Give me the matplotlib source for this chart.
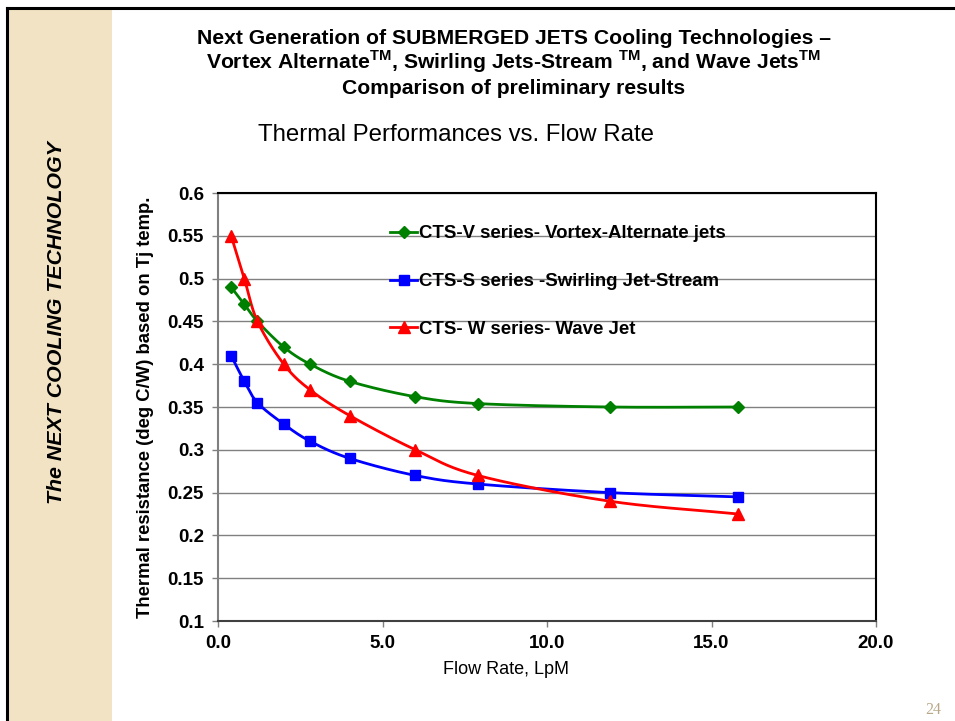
import numpy as np
import matplotlib
matplotlib.use("Agg")
import matplotlib.pyplot as plt
from matplotlib.patches import Rectangle
from matplotlib.lines import Line2D

plt.rcParams['font.family'] = ['Liberation Sans', 'DejaVu Sans']
plt.rcParams['mathtext.fontset'] = 'custom'
plt.rcParams['mathtext.rm'] = 'Liberation Sans'
plt.rcParams['mathtext.bf'] = 'Liberation Sans:bold'

# data
flow = [0.4, 0.8, 1.2, 2.0, 2.8, 4.0, 6.0, 7.9, 11.9, 15.8]
vortex = [0.49, 0.47, 0.45, 0.42, 0.40, 0.38, 0.362, 0.354, 0.35, 0.35]
swirl = [0.41, 0.38, 0.355, 0.33, 0.31, 0.29, 0.27, 0.26, 0.25, 0.245]
wave = [0.55, 0.50, 0.45, 0.40, 0.37, 0.34, 0.30, 0.27, 0.24, 0.225]

labels = ['CTS-V series- Vortex-Alternate jets',
          'CTS-S series -Swirling Jet-Stream',
          'CTS- W series- Wave Jet']
colors = ['#008000', '#0000ff', '#ff0000']
markers = ['D', 's', '^']
msizes = [6, 7.5, 8]

x_ticks = [0, 5, 10, 15, 20]
y_ticks = [0.1, 0.15, 0.2, 0.25, 0.3, 0.35, 0.4, 0.45, 0.5, 0.55, 0.6]

W, H = 955, 721


def smooth(xs, ys, n=30):
    # Excel style smoothed line (uniform Catmull-Rom through the points)
    p = np.column_stack([xs, ys]).astype(float)
    p = np.vstack([2 * p[0] - p[1], p, 2 * p[-1] - p[-2]])
    out = []
    t = np.linspace(0, 1, n)[:, None]
    for i in range(1, len(p) - 2):
        p0, p1, p2, p3 = p[i - 1], p[i], p[i + 1], p[i + 2]
        c = 0.5 * ((2 * p1) + (-p0 + p2) * t + (2 * p0 - 5 * p1 + 4 * p2 - p3) * t ** 2
                   + (-p0 + 3 * p1 - 3 * p2 + p3) * t ** 3)
        out.append(c)
    c = np.vstack(out)
    return c[:, 0], c[:, 1]


def fx(x):
    return x / W


def fy(y):
    return 1 - y / H


fig = plt.figure(figsize=(W / 100, H / 100), dpi=100)

# slide decoration
fig.patches.append(Rectangle((fx(9), 0), fx(112) - fx(9), fy(10), transform=fig.transFigure,
                             facecolor='#f2e3c4', edgecolor='none', zorder=0))
fig.add_artist(Line2D([fx(7), fx(7)], [0, fy(8)], color='black', lw=2.2))
fig.add_artist(Line2D([fx(7), 1], [fy(8), fy(8)], color='black', lw=2.2))
fig.text(fx(57), fy(323), 'The NEXT COOLING TECHNOLOGY', rotation=90, fontsize=15.4,
         fontweight='bold', style='italic', ha='center', va='center')
fig.text(fx(933), fy(710), '24', fontsize=11.5, color='#b8a888', family='Liberation Serif',
         ha='center', va='center')

# titles
fig.text(fx(514), fy(38), 'Next Generation of SUBMERGED JETS Cooling Technologies \u2013',
         fontsize=15.2, fontweight='bold', ha='center', va='center')
fig.text(fx(514), fy(62), r'Vortex Alternate$^{\mathbf{TM}}$, Swirling Jets-Stream $^{\mathbf{TM}}$, and Wave Jets$^{\mathbf{TM}}$',
         fontsize=15.2, fontweight='bold', ha='center', va='center')
fig.text(fx(514), fy(88), 'Comparison of preliminary results',
         fontsize=15.2, fontweight='bold', ha='center', va='center')
fig.text(fx(456), fy(135), 'Thermal Performances vs. Flow Rate', fontsize=17.3,
         ha='center', va='center')

ax = fig.add_axes([fx(218), fy(621), fx(876) - fx(218), fy(193) - fy(621)])

for ys, col, mk, ms, lab in zip([vortex, swirl, wave], colors, markers, msizes, labels):
    sx, sy = smooth(flow, ys)
    ax.plot(sx, sy, color=col, lw=2, zorder=3)
    ax.plot(flow, ys, linestyle='none', marker=mk, ms=ms, color=col, zorder=4)

ax.set_xlim(0, 20)
ax.set_ylim(0.1, 0.6)
ax.set_xticks(x_ticks)
ax.set_xticklabels(['%.1f' % v for v in x_ticks])
ax.set_yticks(y_ticks)
ax.set_yticklabels(['%g' % v for v in y_ticks])
ax.tick_params(axis='both', labelsize=13.5, colors='#808080', labelcolor='black',
               length=4, width=1)
ax.tick_params(axis='x', pad=6)
ax.tick_params(axis='y', pad=6)
for t in ax.get_xticklabels() + ax.get_yticklabels():
    t.set_fontweight('bold')
ax.yaxis.grid(True, color='#808080', lw=1)
ax.set_axisbelow(True)
ax.spines['left'].set_color('#808080')
ax.spines['bottom'].set_color('#404040')
ax.spines['top'].set_color('black')
ax.spines['right'].set_color('black')
for s in ax.spines.values():
    s.set_linewidth(1.5)

fig.text(fx(145), fy(407), 'Thermal resistance (deg C/W) based on Tj temp.', rotation=90,
         fontsize=13.3, fontweight='bold', ha='center', va='center')
fig.text(fx(506), fy(670), 'Flow Rate, LpM', fontsize=13, ha='center', va='center')

handles = [Line2D([], [], color=c, lw=2, marker=m, ms=s) for c, m, s in zip(colors, markers, msizes)]
leg = ax.legend(handles, labels, loc='upper left', bbox_to_anchor=(fx(381), fy(216)),
                bbox_transform=fig.transFigure, frameon=False, handlelength=1.45,
                handletextpad=0.1, labelspacing=1.65, borderpad=0,
                prop={'weight': 'bold', 'size': 13.4})

fig.savefig('out.png', dpi=100)
